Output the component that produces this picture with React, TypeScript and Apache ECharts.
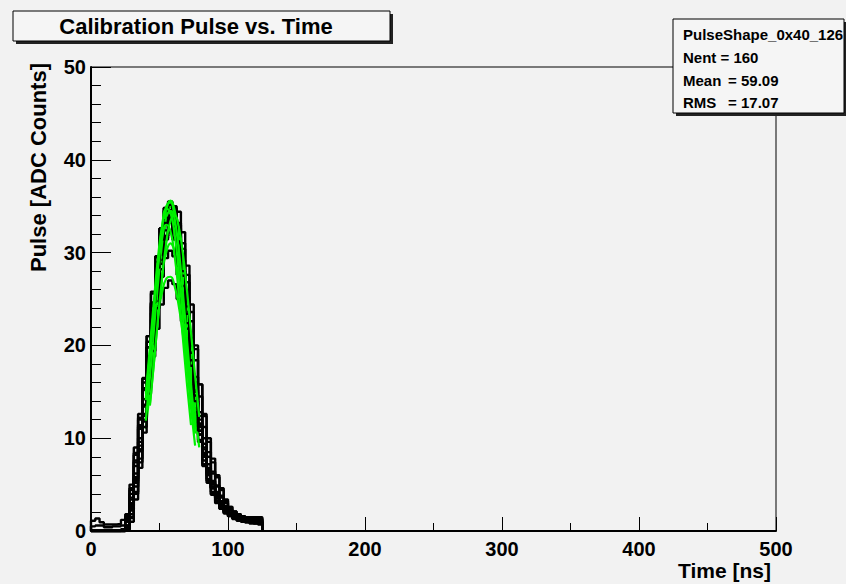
import React, { useEffect, useRef } from "react";
import * as echarts from "echarts";

// ---------- data ----------
const binWidth = 3.125; // ns per bin, 40 bins from 0 to 125 ns
const histograms: number[][] = [
  [0.5, 0.6, 0.6, 0.4, 0.4, 0.5, 0.5, 0.6, 1.0, 3.6, 7.4, 11.2, 15.4, 19.8, 24.2, 28.2, 31.6, 34.0, 35.0, 34.0, 31.4, 27.8, 23.8, 19.6, 15.6, 12.0, 9.0, 6.8, 5.2, 4.0, 3.1, 2.5, 2.0, 1.7, 1.5, 1.3, 1.2, 1.1, 1.1, 1.0],
  [0, 0, 0, 0, 0, 0, 0, 0, 0.6, 2.8, 5.6, 8.8, 12.0, 15.4, 18.8, 21.8, 24.4, 26.2, 27.0, 26.6, 25.0, 22.6, 19.6, 16.4, 13.2, 10.4, 8.0, 6.0, 4.6, 3.5, 2.7, 2.1, 1.7, 1.4, 1.2, 1.1, 1.0, 0.9, 0.9, 0.8],
  [0, 0, 0, 0, 0, 0, 0, 0, 1.8, 5.0, 9.0, 12.6, 16.5, 21.0, 25.8, 29.5, 32.6, 34.8, 35.2, 33.5, 30.2, 26.4, 22.0, 17.8, 13.8, 10.4, 7.6, 5.6, 4.2, 3.2, 2.5, 2.0, 1.7, 1.4, 1.2, 1.1, 1.0, 0.9, 0.8, 0.8],
  [0, 0, 0, 0, 0, 0, 0, 0, 0.2, 1.5, 4.2, 7.8, 11.8, 16.0, 20.5, 25.0, 28.8, 31.8, 33.6, 34.2, 33.0, 30.4, 26.8, 22.6, 18.4, 14.5, 11.2, 8.5, 6.4, 4.9, 3.8, 3.0, 2.4, 2.0, 1.7, 1.5, 1.4, 1.3, 1.2, 1.2],
  [0, 0, 0, 0, 0, 0, 0, 0.1, 1.4, 4.4, 8.4, 12.2, 16.4, 21.0, 25.6, 29.6, 32.6, 34.5, 34.4, 32.4, 29.0, 25.0, 20.8, 16.8, 13.0, 9.8, 7.2, 5.4, 4.0, 3.1, 2.4, 1.9, 1.6, 1.4, 1.2, 1.1, 1.0, 0.9, 0.9, 0.8],
  [0, 0, 0, 0, 0, 0, 0, 0, 0.3, 2.2, 5.2, 9.2, 13.4, 18.0, 22.8, 27.4, 31.2, 34.0, 35.4, 34.8, 32.6, 29.2, 25.2, 20.8, 16.6, 12.8, 10.0, 8.0, 6.2, 4.8, 3.6, 2.7, 2.2, 1.8, 1.6, 1.5, 1.4, 1.4, 1.3, 1.3],
  [0, 0, 0, 0, 0, 0, 0, 0, 0.4, 2.4, 5.4, 8.8, 12.4, 16.4, 20.4, 24.2, 27.4, 29.4, 30.2, 29.6, 27.6, 24.6, 21.2, 17.4, 14.0, 10.8, 8.2, 6.2, 4.7, 3.6, 2.8, 2.2, 1.8, 1.5, 1.3, 1.2, 1.1, 1.0, 0.9, 0.9],
  [0, 0, 0, 0, 0, 0, 0, 0.2, 1.2, 4.0, 7.6, 11.4, 15.4, 19.8, 24.4, 28.4, 31.4, 33.0, 33.2, 31.6, 28.6, 24.8, 20.6, 16.6, 12.8, 9.6, 7.0, 5.2, 3.9, 3.0, 2.4, 1.9, 1.6, 1.3, 1.1, 1.0, 0.9, 0.8, 0.8, 0.7],
  [0, 0, 0, 0, 0, 0, 0, 0, 0.2, 1.4, 4.0, 7.4, 11.2, 15.6, 20.2, 24.8, 28.8, 31.8, 33.6, 34.0, 33.2, 31.0, 27.6, 23.6, 19.6, 15.8, 12.6, 10.0, 7.8, 6.0, 4.6, 3.4, 2.6, 2.1, 1.8, 1.6, 1.5, 1.5, 1.4, 1.4],
  [0, 0, 0, 0, 0, 0, 0, 0, 0.1, 1.0, 3.4, 6.8, 10.6, 14.8, 19.4, 24.0, 28.2, 31.6, 34.0, 35.0, 34.4, 32.2, 28.6, 24.4, 20.0, 15.8, 12.4, 9.6, 7.4, 5.8, 4.4, 3.2, 2.6, 2.1, 1.8, 1.6, 1.5, 1.5, 1.5, 1.5],
  [0, 0, 0, 0, 0, 0, 0, 0, 0.6, 3.4, 7.0, 11.0, 15.2, 19.8, 24.6, 29.0, 32.6, 34.8, 35.5, 34.6, 31.8, 28.0, 23.6, 19.2, 15.0, 11.4, 8.4, 6.2, 4.6, 3.5, 2.7, 2.1, 1.7, 1.5, 1.3, 1.2, 1.1, 1.0, 1.0, 0.9],
  [0, 0, 0, 0, 0, 0, 0, 0, 0.4, 2.6, 5.8, 9.6, 13.6, 17.8, 22.0, 26.0, 29.2, 31.4, 32.2, 31.4, 29.0, 25.6, 21.8, 17.8, 14.0, 10.8, 8.2, 6.2, 4.7, 3.6, 2.8, 2.2, 1.8, 1.5, 1.3, 1.2, 1.1, 1.0, 0.9, 0.9],
  [0, 0, 0, 0, 0, 0, 0, 0, 0.2, 1.8, 4.8, 8.6, 12.6, 17.0, 21.6, 26.0, 29.8, 32.4, 33.5, 33.0, 31.0, 28.0, 24.2, 20.0, 16.0, 12.4, 9.4, 7.2, 5.4, 4.2, 3.2, 2.5, 2.0, 1.7, 1.5, 1.4, 1.3, 1.2, 1.2, 1.1],
  [0, 0, 0, 0, 0, 0, 0, 0, 0.5, 3.0, 6.2, 10.0, 14.2, 18.8, 23.5, 27.8, 31.0, 33.5, 34.6, 33.8, 31.2, 27.5, 23.4, 19.2, 15.2, 11.6, 8.8, 6.6, 5.0, 3.8, 2.9, 2.3, 1.9, 1.6, 1.4, 1.2, 1.1, 1.0, 0.9, 0.9],
  [1.1, 1.35, 0.95, 0.7, 0.7, 0.7, 0.75, 1.2, 1.6, 4.6, 8.2, 12.0, 16.0, 20.4, 24.6, 28.4, 31.4, 33.2, 33.8, 32.8, 30.0, 26.4, 22.4, 18.4, 14.6, 11.2, 8.4, 6.4, 4.8, 3.7, 2.9, 2.3, 1.9, 1.6, 1.4, 1.3, 1.2, 1.1, 1.0, 1.0],
];

const fitX = [40, 43, 46, 49, 52, 55, 58, 61, 64, 67, 70, 73, 76, 79];
const fit1 = [14.1, 19.0, 24.1, 28.9, 32.8, 35.0, 35.4, 33.7, 30.4, 25.8, 20.7, 15.7, 11.2, null];
const fit2 = [null, 13.5, 18.2, 23.1, 27.7, 31.4, 33.6, 33.9, 32.3, 29.1, 24.7, 19.8, 15.0, 10.7];
const fit3 = [14.3, 19.2, 24.1, 28.5, 31.6, 33.0, 32.3, 29.7, 25.7, 20.9, 15.9, 11.4, null, null];
const fit4 = [12.0, 16.4, 21.2, 26.0, 30.3, 33.4, 34.9, 34.6, 32.5, 29.0, 24.5, 19.6, 14.9, 10.7];
const fit5 = [13.2, 16.7, 20.2, 23.3, 25.8, 27.2, 27.4, 26.4, 24.3, 21.3, 17.9, 14.3, 10.9, null];
const fit6 = [11.9, 16.6, 21.8, 26.8, 31.1, 33.8, 34.5, 33.1, 29.8, 25.2, 20.0, 15.0, 10.5, null];
const fit7 = [11.0, 15.1, 19.6, 23.9, 27.6, 30.1, 31.0, 30.1, 27.6, 23.9, 19.6, 15.1, 11.0, null];
const fit8 = [14.8, 19.8, 24.9, 29.6, 33.0, 34.7, 34.3, 32.0, 28.1, 23.2, 18.1, 13.3, 9.2, null];
const fit9 = [null, 13.7, 18.3, 23.0, 27.4, 31.1, 33.4, 34.0, 32.8, 30.0, 26.0, 21.4, 16.7, 12.3];
const fit10 = [12.9, 17.6, 22.7, 27.6, 31.8, 34.6, 35.6, 34.6, 31.8, 27.6, 22.7, 17.6, 12.9, 9.0];
// which fit follows which histogram (index into histograms); -1 = drawn on top of everything
const fitsAfter: { [k: number]: (number | null)[][] } = {
  1: [fit5], 3: [fit2], 5: [fit4], 6: [fit7], 10: [fit10], 13: [fit6],
  14: [fit1, fit3, fit8, fit9],
};

const titleText = "Calibration Pulse vs. Time";
const statName = "PulseShape_0x40_126";
const statNent = "Nent = 160";
const statMean = "59.09";
const statRms = "17.07";
const xTitle = "Time [ns]";
const yTitle = "Pulse [ADC Counts]";

const FONT = "'Liberation Sans', Arial, Helvetica, sans-serif";
const BG = "#f2f2f2";

function histData(vals: number[]) {
  const pts: [number, number][] = [[0, 0]];
  vals.forEach((v, i) => pts.push([i * binWidth, v]));
  pts.push([vals.length * binWidth, vals[vals.length - 1]]);
  pts.push([vals.length * binWidth, 0]);
  return pts;
}

export default function App() {
  const ref = useRef<HTMLDivElement>(null);
  useEffect(() => {
    if (!ref.current) return;
    const chart = echarts.init(ref.current, undefined, { renderer: "svg" });
    const series: any[] = [];
    histograms.forEach((h, i) => {
      series.push({
        type: "line",
        step: "end",
        data: histData(h),
        showSymbol: false,
        lineStyle: { color: "#000", width: 2.4 },
        silent: true,
      });
      (fitsAfter[i] || []).forEach((f) => {
        series.push({
          type: "line",
          smooth: true,
          data: fitX.map((x, j) => [x, f[j]]),
          showSymbol: false,
          connectNulls: false,
          lineStyle: { color: "#00f000", width: 2.2 },
          silent: true,
        });
      });
    });

    const labelStyle = { color: "#000", fontSize: 20, fontWeight: "bold" as const, fontFamily: FONT };

    chart.setOption({
      animation: false,
      backgroundColor: BG,
      grid: {
        left: 91, right: 70, top: 67, bottom: 53,
        show: true, borderColor: "#000", borderWidth: 1, backgroundColor: BG,
      },
      xAxis: {
        type: "value", min: 0, max: 500, interval: 100,
        axisLine: { show: true, lineStyle: { color: "#000", width: 2 } },
        axisTick: { show: true, inside: true, length: 14, lineStyle: { color: "#000", width: 1 } },
        minorTick: { show: true, splitNumber: 2, length: 8, lineStyle: { color: "#000", width: 1 } },
        splitLine: { show: false },
        axisLabel: { ...labelStyle, margin: 8, showMinLabel: true, showMaxLabel: true },
      },
      yAxis: {
        type: "value", min: 0, max: 50, interval: 10,
        axisLine: { show: true, lineStyle: { color: "#000", width: 2 } },
        axisTick: { show: true, inside: true, length: 20, lineStyle: { color: "#000", width: 1 } },
        minorTick: { show: true, splitNumber: 5, length: 10, lineStyle: { color: "#000", width: 1 } },
        splitLine: { show: false },
        axisLabel: { ...labelStyle, margin: 5, showMinLabel: true, showMaxLabel: true },
      },
      series,
      graphic: [
        // title box
        { type: "rect", z: 100, shape: { x: 16, y: 14, width: 377, height: 30 }, style: { fill: "#222" } },
        { type: "rect", z: 101, shape: { x: 13, y: 11, width: 377, height: 30 }, style: { fill: "#f5f5f5", stroke: "#000", lineWidth: 1 } },
        { type: "text", z: 102, x: 196, y: 26, style: { text: titleText, fill: "#000", font: `bold 22px ${FONT}`, align: "center", verticalAlign: "middle" } },
        // stats box
        { type: "rect", z: 100, shape: { x: 676, y: 22, width: 171, height: 94 }, style: { fill: "#222" } },
        { type: "rect", z: 101, shape: { x: 673, y: 19, width: 171, height: 94 }, style: { fill: "#f5f5f5", stroke: "#000", lineWidth: 1 } },
        { type: "text", z: 102, x: 683, y: 34, style: { text: statName, fill: "#000", font: `bold 15px ${FONT}`, verticalAlign: "middle" } },
        { type: "text", z: 102, x: 683, y: 57.5, style: { text: statNent, fill: "#000", font: `bold 15px ${FONT}`, verticalAlign: "middle" } },
        { type: "text", z: 102, x: 683, y: 80.5, style: { text: "Mean", fill: "#000", font: `bold 15px ${FONT}`, verticalAlign: "middle" } },
        { type: "text", z: 102, x: 728, y: 80.5, style: { text: "=", fill: "#000", font: `bold 15px ${FONT}`, verticalAlign: "middle" } },
        { type: "text", z: 102, x: 741, y: 80.5, style: { text: statMean, fill: "#000", font: `bold 15px ${FONT}`, verticalAlign: "middle" } },
        { type: "text", z: 102, x: 683, y: 102.5, style: { text: "RMS", fill: "#000", font: `bold 15px ${FONT}`, verticalAlign: "middle" } },
        { type: "text", z: 102, x: 728, y: 102.5, style: { text: "=", fill: "#000", font: `bold 15px ${FONT}`, verticalAlign: "middle" } },
        { type: "text", z: 102, x: 741, y: 102.5, style: { text: statRms, fill: "#000", font: `bold 15px ${FONT}`, verticalAlign: "middle" } },
        // axis titles
        { type: "text", z: 102, x: 771, y: 570, style: { text: xTitle, fill: "#000", font: `bold 21px ${FONT}`, align: "right", verticalAlign: "middle" } },
        { type: "text", z: 102, x: 38, y: 63, rotation: Math.PI / 2, style: { text: yTitle, fill: "#000", font: `bold 22px ${FONT}`, align: "right", verticalAlign: "middle" } },
      ],
    });
    return () => chart.dispose();
  }, []);
  return <div ref={ref} style={{ position: "absolute", left: 0, top: 0, width: 846, height: 584 }} />;
}
